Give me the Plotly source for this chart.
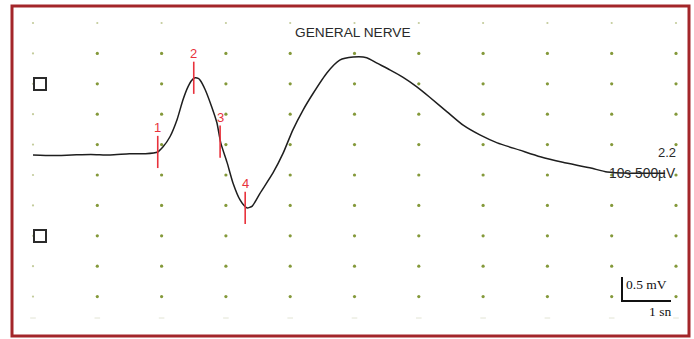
import numpy as np
import plotly.graph_objects as go

# Nerve conduction recording: time in divisions (ms), amplitude in mV
time_ms = [0.00, 0.30, 0.60, 0.90, 1.20, 1.50, 1.75, 1.94, 2.02, 2.13, 2.24, 2.33,
           2.41, 2.47, 2.52, 2.57, 2.60, 2.68, 2.78, 2.86, 2.92, 3.02, 3.11, 3.22,
           3.29, 3.33, 3.41, 3.53, 3.73, 3.89, 4.04, 4.20, 4.36, 4.57,
           4.77, 4.98, 5.19, 5.35, 5.55, 5.75, 5.97, 6.17, 6.44, 6.69, 6.95, 7.22,
           7.57, 7.89, 8.24, 8.66, 8.93, 9.29, 9.83]
amp_mv = [0.00, -0.01, 0.00, 0.01, 0.00, 0.02, 0.02, 0.05, 0.13, 0.30, 0.58, 0.90,
          1.12, 1.23, 1.27, 1.26, 1.23, 1.07, 0.79, 0.53, 0.20, -0.13, -0.46, -0.74,
          -0.84, -0.87, -0.84, -0.63, -0.30, 0.03, 0.41, 0.74, 1.02, 1.35,
          1.56, 1.61, 1.60, 1.51, 1.40, 1.28, 1.12, 0.95, 0.71, 0.49, 0.33, 0.20,
          0.08, -0.03, -0.12, -0.21, -0.28, -0.30, -0.30]

# Latency cursors
cursor_labels = ["1", "2", "3", "4"]
cursor_time = [1.94, 2.50, 2.91, 3.30]
cursor_amp = [0.05, 1.27, 0.22, -0.87]

title_text = "GENERAL NERVE"
gain_text = "2.2"
sweep_text = "10s 500µV"
scale_v_text = "0.5 mV"
scale_t_text = "1 sn"

W, H = 694, 339
PX_PER_DIV_X = 64.3
PX_PER_MV = 60.8
X0_PX, BASE_PX = 33, 155

x_range = [-X0_PX / PX_PER_DIV_X, (W - X0_PX) / PX_PER_DIV_X]
y_range = [(BASE_PX - H) / PX_PER_MV, BASE_PX / PX_PER_MV]

fig = go.Figure()

# Dotted screen graticule
grid_cols = np.arange(0, 11)
grid_rows = (BASE_PX - 23) / PX_PER_MV - 0.5 * np.arange(0, 10)
gx, gy = np.meshgrid(grid_cols, grid_rows)
faint = (gx == 0) | (gy == grid_rows[0])
fig.add_trace(go.Scatter(
    x=gx[~faint], y=gy[~faint], mode="markers",
    marker=dict(size=3.2, color="#84993a", symbol="circle"),
    hoverinfo="skip", showlegend=False))
fig.add_trace(go.Scatter(
    x=gx[faint], y=gy[faint], mode="markers",
    marker=dict(size=2.2, color="#c4cc9c", symbol="circle"),
    hoverinfo="skip", showlegend=False))
bottom_row = np.full(len(grid_cols), (BASE_PX - 318) / PX_PER_MV)
fig.add_trace(go.Scatter(
    x=grid_cols, y=bottom_row, mode="markers",
    marker=dict(size=4, color="#e2e4d4", symbol="line-ew",
                line=dict(color="#e2e4d4", width=1)),
    hoverinfo="skip", showlegend=False))

# Waveform
fig.add_trace(go.Scatter(
    x=time_ms, y=amp_mv, mode="lines",
    line=dict(color="#1e1e1e", width=1.5, shape="spline", smoothing=0.6),
    hoverinfo="skip", showlegend=False))

# Cursor ticks
fig.add_trace(go.Scatter(
    x=cursor_time, y=cursor_amp, mode="markers",
    marker=dict(symbol="line-ns", size=23, color="#e8323c",
                line=dict(color="#e8323c", width=1.6)),
    hoverinfo="skip", showlegend=False))
for lab, t, v in zip(cursor_labels, cursor_time, cursor_amp):
    fig.add_annotation(x=t, y=v, text=lab, showarrow=False, yshift=24,
                       xanchor="center", yanchor="middle",
                       font=dict(family="Arial, Liberation Sans, sans-serif",
                                 size=13, color="#e8323c"))


def px(x):
    return x / W


def py(y):
    return 1 - y / H


annot_font = dict(family="Arial, Liberation Sans, sans-serif", color="#2a2a2a")
fig.add_annotation(x=px(353), y=py(32), xref="paper", yref="paper", text=title_text,
                   showarrow=False, xanchor="center", yanchor="middle",
                   font=dict(size=13.7, **annot_font))
fig.add_annotation(x=px(678), y=py(152), xref="paper", yref="paper", text=gain_text,
                   showarrow=False, xanchor="right", yanchor="middle",
                   font=dict(size=13, **annot_font))
fig.add_annotation(x=px(678), y=py(173), xref="paper", yref="paper", text=sweep_text,
                   showarrow=False, xanchor="right", yanchor="middle",
                   font=dict(size=13.8, **annot_font))

serif = dict(family="Liberation Serif, Times New Roman, serif", color="#111111")
fig.add_annotation(x=px(624), y=py(284), xref="paper", yref="paper", text=scale_v_text,
                   showarrow=False, xanchor="left", yanchor="middle",
                   font=dict(size=13.5, **serif))
fig.add_annotation(x=px(673), y=py(311), xref="paper", yref="paper", text=scale_t_text,
                   showarrow=False, xanchor="right", yanchor="middle",
                   font=dict(size=13.5, **serif))

shapes = [
    # frame
    dict(type="rect", xref="paper", yref="paper", x0=px(12), x1=px(689),
         y0=py(336), y1=py(6), line=dict(color="#a3262a", width=3)),
    # side squares
    dict(type="rect", xref="paper", yref="paper", x0=px(34), x1=px(46),
         y0=py(90), y1=py(78), line=dict(color="#2b2b2b", width=2)),
    dict(type="rect", xref="paper", yref="paper", x0=px(34), x1=px(46),
         y0=py(242), y1=py(230), line=dict(color="#2b2b2b", width=2)),
    # calibration bar
    dict(type="line", xref="paper", yref="paper", x0=px(622), x1=px(622),
         y0=py(277), y1=py(301), line=dict(color="#111111", width=2)),
    dict(type="line", xref="paper", yref="paper", x0=px(621), x1=px(671),
         y0=py(301), y1=py(301), line=dict(color="#111111", width=2)),
]

fig.update_layout(
    width=W, height=H, autosize=False,
    margin=dict(l=0, r=0, t=0, b=0, pad=0),
    paper_bgcolor="white", plot_bgcolor="white",
    shapes=shapes,
    xaxis=dict(range=x_range, visible=False, fixedrange=True),
    yaxis=dict(range=y_range, visible=False, fixedrange=True),
)

fig.write_html("out.html")
